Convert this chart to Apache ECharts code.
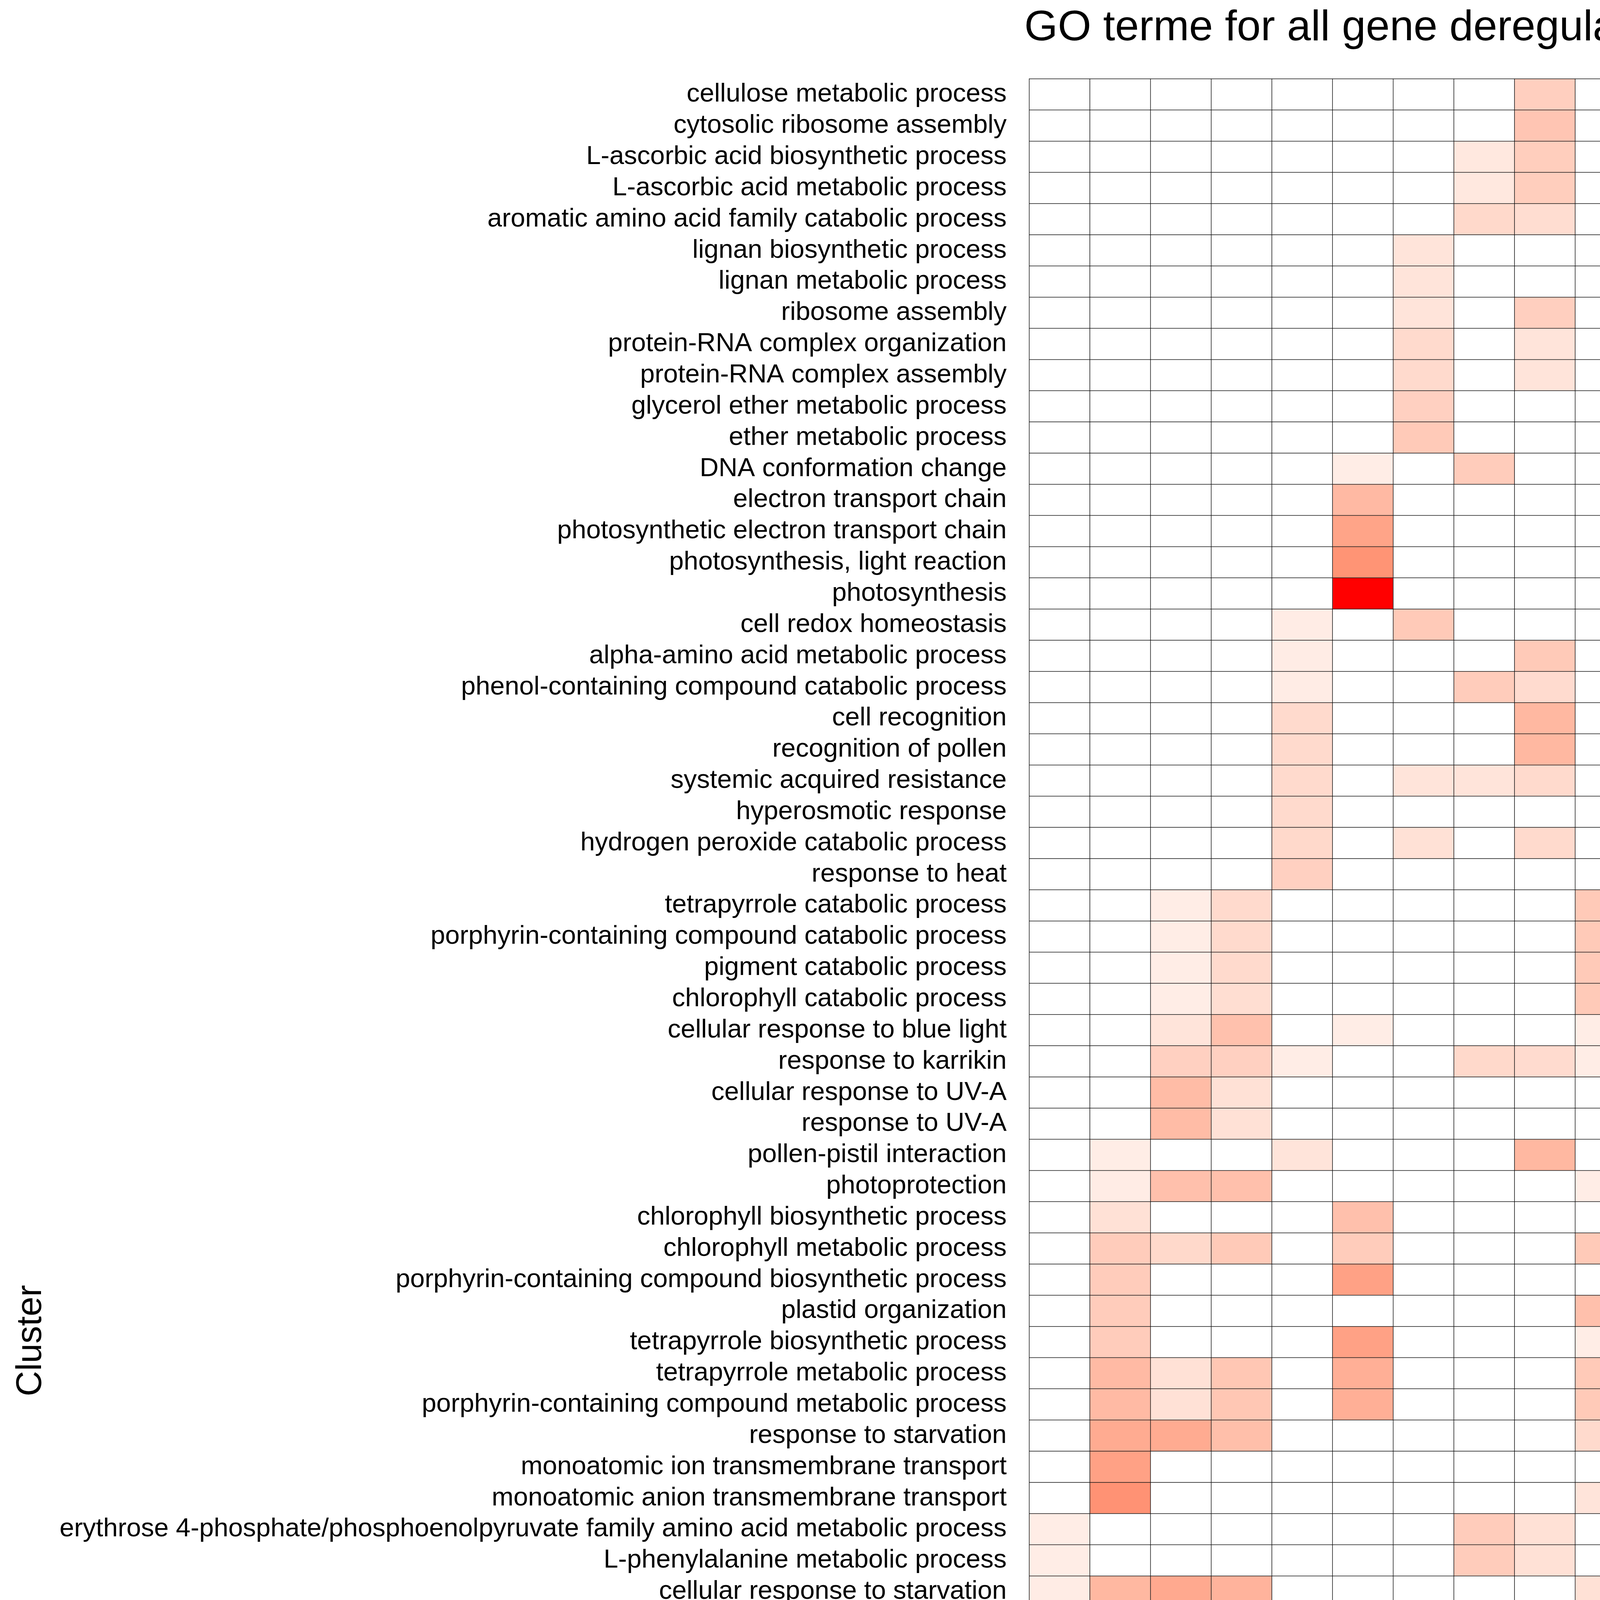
<!DOCTYPE html>
<html>
<head>
<meta charset="utf-8">
<script src="https://cdn.jsdelivr.net/npm/echarts@6/dist/echarts.min.js"></script>
<style>
  html, body { margin: 0; padding: 0; background: #fff; }
  #main { width: 5400px; height: 7800px; }
</style>
</head>
<body>
<div id="main"></div>
<script>
let terms = [
	'cellulose metabolic process', 'cytosolic ribosome assembly', 'L-ascorbic acid biosynthetic process',
	'L-ascorbic acid metabolic process', 'aromatic amino acid family catabolic process', 'lignan biosynthetic process',
	'lignan metabolic process', 'ribosome assembly', 'protein-RNA complex organization', 'protein-RNA complex assembly',
	'glycerol ether metabolic process', 'ether metabolic process', 'DNA conformation change', 'electron transport chain',
	'photosynthetic electron transport chain', 'photosynthesis, light reaction', 'photosynthesis', 'cell redox homeostasis',
	'alpha-amino acid metabolic process', 'phenol-containing compound catabolic process', 'cell recognition',
	'recognition of pollen', 'systemic acquired resistance', 'hyperosmotic response', 'hydrogen peroxide catabolic process',
	'response to heat', 'tetrapyrrole catabolic process', 'porphyrin-containing compound catabolic process',
	'pigment catabolic process', 'chlorophyll catabolic process', 'cellular response to blue light', 'response to karrikin',
	'cellular response to UV-A', 'response to UV-A', 'pollen-pistil interaction', 'photoprotection',
	'chlorophyll biosynthetic process', 'chlorophyll metabolic process', 'porphyrin-containing compound biosynthetic process',
	'plastid organization', 'tetrapyrrole biosynthetic process', 'tetrapyrrole metabolic process',
	'porphyrin-containing compound metabolic process', 'response to starvation', 'monoatomic ion transmembrane transport',
	'monoatomic anion transmembrane transport',
	'erythrose 4-phosphate/phosphoenolpyruvate family amino acid metabolic process', 'L-phenylalanine metabolic process',
	'cellular response to starvation',
	'erythrose 4-phosphate/phosphoenolpyruvate family amino acid catabolic process', 'salicylic acid catabolic process',
	'L-phenylalanine catabolic process', 'cellular response to phosphate starvation', 'cellular response to external stimulus',
	'alpha-amino acid catabolic process', 'cellular response to extracellular stimulus', 'cellular response to nutrient levels',
	'carboxylic acid transport', 'organic acid transport', 'drought recovery', 'indole glucosinolate metabolic process',
	'response to vitamin', 'organic anion transport', 'response to extracellular stimulus', 'phenylpropanoid biosynthetic process',
	'response to nutrient levels', 'secondary metabolite biosynthetic process', 'phenylpropanoid metabolic process',
	'lignin metabolic process', 'phenol-containing compound metabolic process', 'jasmonic acid mediated signaling pathway',
	'salicylic acid metabolic process', 'response to jasmonic acid', 'monoatomic anion transport',
	'jasmonic acid biosynthetic process', 'jasmonic acid metabolic process', 'response to salicylic acid',
	'response to organonitrogen compound', 'response to chitin'
];

let columns = [
	'(Down) SS_WT1 vs SS_W78*', '(Down) SS_WT2 vs SS_E568K', '(Down) SD_WT1 vs SD_W78*', '(Down) SD_WT2 vs SD_E568K',
	'(Down) SS_WT vs SD_WT', '(Up) SS_WT1 vs SS_W78*', '(Up) SS_WT2 vs SS_E568K', '(Up) SD_WT1 vs SD_W78*',
	'(Up) SD_WT2 vs SD_E568K', '(Up) SS_WT vs SD_WT'
];
let colSign = ['Down', 'Down', 'Down', 'Down', 'Down', 'Up', 'Up', 'Up', 'Up', 'Up'];
let colComparison = [
	'SS_WT1 vs SS_W78*', 'SS_WT2 vs SS_E568K', 'SD_WT1 vs SD_W78*', 'SD_WT2 vs SD_E568K', 'SS_WT vs SD_WT',
	'SS_WT1 vs SS_W78*', 'SS_WT2 vs SS_E568K', 'SD_WT1 vs SD_W78*', 'SD_WT2 vs SD_E568K', 'SS_WT vs SD_WT'
];

let signNames = ['Down', 'Up'];
let signColors = ['#204A7A', '#EF4136'];
let compNames = ['SS_WT1 vs SS_W78*', 'SS_WT2 vs SS_E568K', 'SD_WT1 vs SD_W78*', 'SD_WT2 vs SD_E568K', 'SS_WT vs SD_WT'];
let compColors = ['#087A5C', '#6CD6AC', '#B66F02', '#FEAB5D', '#9A85FD'];

// -log10(FDR), one array per column, rows in the order of terms (10 per line)
let downSS1 = [
	0, 0, 0, 0, 0, 0, 0, 0, 0, 0,
	0, 0, 0, 0, 0, 0, 0, 0, 0, 0,
	0, 0, 0, 0, 0, 0, 0, 0, 0, 0,
	0, 0, 0, 0, 0, 0, 0, 0, 0, 0,
	0, 0, 0, 0, 0, 0, 1.3, 1.3, 1.4, 1.4,
	1.4, 1.4, 1.4, 1.4, 1.5, 1.5, 1.5, 1.6, 1.6, 1.7,
	1.9, 1.9, 2.5, 2.5, 2.7, 2.7, 2.7, 2.8, 3.1, 3.1,
	3.1, 3.1, 3.7, 4.1, 6.6, 6.8, 9.1, 9.3, 11.0
];
let downSS2 = [
	0, 0, 0, 0, 0, 0, 0, 0, 0, 0,
	0, 0, 0, 0, 0, 0, 0, 0, 0, 0,
	0, 0, 0, 0, 0, 0, 0, 0, 0, 0,
	0, 0, 0, 0, 1.3, 1.4, 2.2, 3.7, 3.7, 3.7,
	3.7, 5.0, 5.0, 6.1, 6.8, 7.8, 0, 0, 5.2, 0,
	0, 0, 4.2, 2.4, 0, 2.9, 4.7, 5.2, 5.2, 0,
	0, 0, 4.6, 3.9, 0, 5.5, 0, 0, 0, 0,
	0, 0, 0, 11.7, 0, 0, 0, 0, 0
];
let downSD1 = [
	0, 0, 0, 0, 0, 0, 0, 0, 0, 0,
	0, 0, 0, 0, 0, 0, 0, 0, 0, 0,
	0, 0, 0, 0, 0, 0, 1.3, 1.3, 1.3, 1.3,
	2.0, 3.4, 4.9, 4.9, 0, 4.6, 0, 2.8, 0, 0,
	0, 2.2, 2.2, 6.1, 0, 0, 0, 0, 6.2, 0,
	0, 0, 5.2, 5.4, 0, 5.5, 5.8, 0, 0, 2.7,
	0, 0, 0, 5.2, 0, 5.6, 0, 0, 0, 0,
	0, 0, 0, 0, 1.3, 0, 0, 0, 0
];
let downSD2 = [
	0, 0, 0, 0, 0, 0, 0, 0, 0, 0,
	0, 0, 0, 0, 0, 0, 0, 0, 0, 0,
	0, 0, 0, 0, 0, 0, 2.7, 2.7, 2.7, 2.4,
	4.5, 3.4, 2.2, 2.2, 0, 4.6, 0, 3.9, 0, 0,
	0, 4.1, 4.1, 4.7, 0, 0, 0, 0, 5.5, 0,
	0, 0, 4.2, 4.6, 0, 4.6, 5.5, 0, 0, 0,
	0, 0, 0, 3.7, 0, 4.7, 0, 0, 0, 0,
	0, 0, 0, 0, 1.3, 1.3, 0, 3.7, 4.7
];
let downSSvsSD = [
	0, 0, 0, 0, 0, 0, 0, 0, 0, 0,
	0, 0, 0, 0, 0, 0, 0, 1.4, 1.4, 1.4,
	2.7, 2.7, 2.7, 2.7, 2.8, 3.4, 0, 0, 0, 0,
	0, 1.3, 0, 0, 2.0, 0, 0, 0, 0, 0,
	0, 0, 0, 0, 0, 0, 0, 0, 0, 1.5,
	1.5, 1.5, 0, 0, 2.7, 0, 0, 0, 0, 2.9,
	0, 0, 0, 0, 3.1, 0, 2.7, 4.7, 3.1, 1.7,
	0, 1.7, 0, 0, 0, 0, 1.6, 0, 0
];
let upSS1 = [
	0, 0, 0, 0, 0, 0, 0, 0, 0, 0,
	0, 0, 1.3, 5.1, 6.6, 7.7, 14.0, 0, 0, 0,
	0, 0, 0, 0, 0, 0, 0, 0, 0, 0,
	1.3, 0, 0, 0, 0, 0, 4.6, 3.7, 6.8, 0,
	6.8, 5.8, 5.8, 0, 0, 0, 0, 0, 0, 0,
	0, 0, 0, 0, 0, 0, 0, 0, 0, 0,
	0, 0, 0, 0, 0, 0, 0, 0, 0, 0,
	0, 0, 0, 0, 0, 0, 0, 0, 0
];
let upSS2 = [
	0, 0, 0, 0, 0, 2.0, 2.0, 2.0, 2.7, 2.7,
	3.4, 3.9, 0, 0, 0, 0, 0, 3.9, 0, 0,
	0, 0, 2.0, 0, 2.2, 0, 0, 0, 0, 0,
	0, 0, 0, 0, 0, 0, 0, 0, 0, 0,
	0, 0, 0, 0, 0, 0, 0, 0, 0, 0,
	0, 0, 0, 0, 0, 0, 0, 0, 0, 2.0,
	0, 2.2, 0, 0, 2.0, 0, 0, 2.6, 0, 0,
	0, 0, 0, 0, 0, 0, 0, 0, 0
];
let upSD1 = [
	0, 0, 1.7, 1.7, 2.8, 0, 0, 0, 0, 0,
	0, 0, 3.7, 0, 0, 0, 0, 0, 0, 3.7,
	0, 0, 2.0, 0, 0, 0, 0, 0, 0, 0,
	0, 2.8, 0, 0, 0, 0, 0, 0, 0, 0,
	0, 0, 0, 0, 0, 0, 3.7, 3.7, 0, 3.9,
	3.9, 3.9, 0, 0, 2.2, 0, 0, 0, 0, 2.7,
	0, 0, 0, 0, 0, 0, 1.3, 2.2, 0, 0,
	0, 1.3, 0, 0, 0, 0, 1.3, 0, 0
];
let upSD2 = [
	3.5, 4.2, 3.6, 3.6, 2.5, 0, 0, 3.5, 2.0, 2.0,
	0, 0, 0, 0, 0, 0, 0, 0, 3.9, 2.6,
	5.2, 5.2, 2.7, 0, 2.7, 0, 0, 0, 0, 0,
	0, 2.6, 0, 0, 5.2, 0, 0, 0, 0, 0,
	0, 0, 0, 0, 0, 0, 2.2, 2.2, 0, 2.8,
	2.8, 2.8, 0, 0, 2.4, 0, 0, 0, 0, 0,
	3.7, 2.2, 0, 0, 4.1, 0, 3.4, 5.4, 3.7, 2.5,
	1.3, 2.5, 2.5, 2.5, 2.5, 2.5, 1.8, 0, 0
];
let upSSvsSD = [
	0, 0, 0, 0, 0, 0, 0, 0, 0, 0,
	0, 0, 0, 0, 0, 0, 0, 0, 0, 0,
	0, 0, 0, 0, 0, 0, 3.9, 3.9, 3.9, 3.9,
	1.3, 1.3, 0, 0, 0, 1.3, 0, 3.9, 0, 4.6,
	1.3, 3.9, 3.9, 2.7, 0, 2.0, 0, 0, 2.2, 0,
	0, 0, 0, 1.4, 0, 1.6, 2.2, 1.5, 1.5, 0,
	0, 0, 0, 2.0, 0, 2.2, 0, 0, 0, 0,
	0, 0, 0, 1.5, 3.7, 3.7, 0, 0, 1.3
];

let fdrTicks = [0, 5, 10];
let fdrMax = 14;
// white -> red, sampled from a Lab ramp
let ramp = ['#FFFFFF', '#FFE7DE', '#FFCFBF', '#FFB7A0', '#FF9E81', '#FF8464', '#FF6846', '#FF4628', '#FF0000'];

let valueColumns = [downSS1, downSS2, downSD1, downSD2, downSSvsSD, upSS1, upSS2, upSD1, upSD2, upSSvsSD];

let heatData = [];
valueColumns.forEach((col, x) => {
	col.forEach((v, y) => heatData.push([x, y, v]));
});

let annoData = [];
for (let x = 0; x < columns.length; x++) {
	annoData.push([x, 0]);
	annoData.push([x, 1]);
}

const FONT = '"Liberation Sans", Arial, sans-serif';
const HM = { left: 2635, top: 202, width: 1553, height: 6308 };
const CB = { x: 4340, y: 3953, w: 144, h: 714 };

let chart = echarts.init(document.getElementById('main'), null, { renderer: 'canvas' });

function legendGraphics() {
	let g = [];
	let txt = (x, y, s, size, va) => ({
		type: 'text', x: x, y: y, silent: true,
		style: { text: s, font: size + 'px ' + FONT, fill: '#000', textAlign: 'left', textVerticalAlign: va || 'middle' }
	});

	g.push(txt(4342, 2262, 'Sign', 90, 'bottom'));
	signNames.forEach((name, i) => {
		let y = 2318 + i * 142;
		g.push({ type: 'rect', shape: { x: 4341, y: y, width: 142, height: 142 }, style: { fill: signColors[i] } });
		g.push(txt(4531, y + 71, name, 72));
	});

	g.push(txt(4342, 2868, 'Comparison', 90, 'bottom'));
	compNames.forEach((name, i) => {
		let y = 2921 + i * 143;
		g.push({ type: 'rect', shape: { x: 4341, y: y, width: 142, height: 143 }, style: { fill: compColors[i] } });
		g.push(txt(4531, y + 71, name, 72));
	});

	g.push(txt(4340, 3901, '-log10(FDR)', 90, 'bottom'));
	let stops = ramp.map((c, i) => ({ offset: 1 - i / (ramp.length - 1), color: c }));
	g.push({
		type: 'rect', shape: { x: CB.x, y: CB.y, width: CB.w, height: CB.h },
		style: { fill: new echarts.graphic.LinearGradient(0, 0, 0, 1, stops.reverse()) }
	});
	fdrTicks.forEach((t) => {
		let y = CB.y + CB.h - t / fdrMax * CB.h;
		if (t > 0) {
			g.push({ type: 'line', shape: { x1: CB.x, y1: y, x2: CB.x + 28, y2: y }, style: { stroke: '#fff', lineWidth: 3 } });
			g.push({ type: 'line', shape: { x1: CB.x + CB.w - 28, y1: y, x2: CB.x + CB.w, y2: y }, style: { stroke: '#fff', lineWidth: 3 } });
		}
		g.push(txt(4532, y, String(t), 72));
	});

	g.push({
		type: 'text', x: 3457, y: 128, silent: true,
		style: { text: 'GO terme for all gene deregulated', font: '110px ' + FONT, fill: '#000', textAlign: 'center', textVerticalAlign: 'bottom' }
	});
	g.push({
		type: 'text', x: 80, y: 3432, rotation: Math.PI / 2, silent: true,
		style: { text: 'Cluster', font: '90px ' + FONT, fill: '#000', textAlign: 'center', textVerticalAlign: 'middle' }
	});
	g.push({
		type: 'text', x: 3411, y: 7745, silent: true,
		style: { text: 'Biological process', font: '90px ' + FONT, fill: '#000', textAlign: 'center', textVerticalAlign: 'bottom' }
	});
	return g;
}

let option = {
	backgroundColor: '#fff',
	animation: false,
	textStyle: { fontFamily: FONT },
	grid: [
		{ left: HM.left, top: HM.top, width: HM.width, height: HM.height },
		{ left: HM.left, top: 6523, width: HM.width, height: 139 }
	],
	xAxis: [
		{
			type: 'category', gridIndex: 0, data: columns,
			axisLine: { show: false }, axisTick: { show: false }, axisLabel: { show: false }, splitLine: { show: false }
		},
		{
			type: 'category', gridIndex: 1, data: columns,
			axisLine: { show: false }, axisTick: { show: false }, splitLine: { show: false },
			axisLabel: { interval: 0, rotate: 90, margin: 42, fontSize: 67, color: '#000', fontFamily: FONT }
		}
	],
	yAxis: [
		{
			type: 'category', gridIndex: 0, data: terms, inverse: true,
			axisLine: { show: false }, axisTick: { show: false }, splitLine: { show: false },
			axisLabel: { interval: 0, margin: 58, fontSize: 67, color: '#000', fontFamily: FONT }
		},
		{
			type: 'category', gridIndex: 1, data: ['Sign', 'Comparison'], inverse: true,
			axisLine: { show: false }, axisTick: { show: false }, axisLabel: { show: false }, splitLine: { show: false }
		}
	],
	visualMap: {
		type: 'continuous', show: false, min: 0, max: fdrMax, seriesIndex: 0,
		inRange: { color: ramp }
	},
	series: [
		{
			type: 'heatmap', xAxisIndex: 0, yAxisIndex: 0, data: heatData,
			itemStyle: { borderColor: '#1a1a1a', borderWidth: 1.5 },
			emphasis: { disabled: true }
		},
		{
			type: 'custom', xAxisIndex: 1, yAxisIndex: 1, data: annoData,
			renderItem: (params, api) => {
				let x = api.value(0);
				let row = api.value(1);
				let c = api.coord([x, row]);
				let s = api.size([1, 1]);
				let fill = row === 0
					? signColors[signNames.indexOf(colSign[x])]
					: compColors[compNames.indexOf(colComparison[x])];
				return {
					type: 'rect',
					shape: { x: c[0] - s[0] / 2 + 6, y: c[1] - s[1] / 2 + (row === 0 ? 0 : 6), width: s[0] - 12, height: s[1] - 6 },
					style: { fill: fill, stroke: '#1a1a1a', lineWidth: 1.5 }
				};
			}
		}
	],
	graphic: legendGraphics()
};

chart.setOption(option);
</script>
</body>
</html>
